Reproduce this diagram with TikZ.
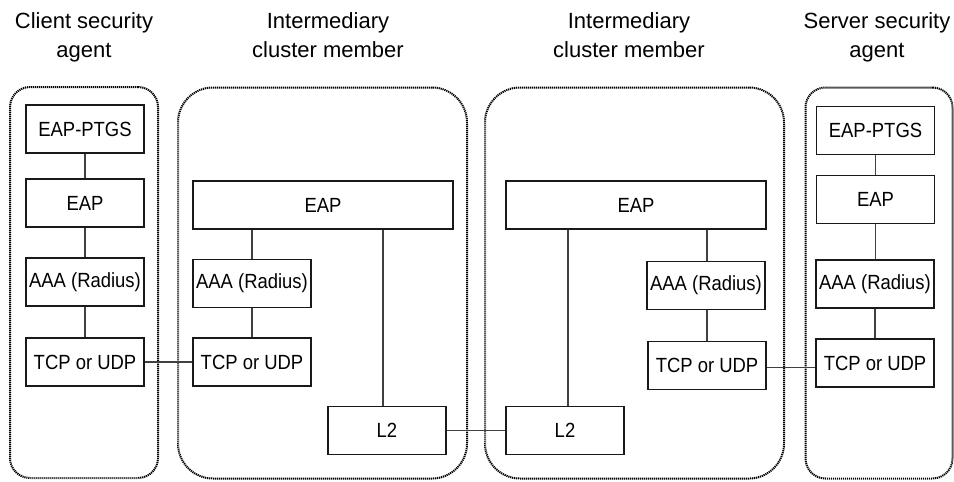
\documentclass[tikz,border=0pt]{standalone}
\usepackage{fontspec}
\setmainfont{Liberation Sans}
\newfontfamily\boxfont[FakeStretch=0.9]{Liberation Sans}
\begin{document}
\begin{tikzpicture}[x=1pt,y=-1pt,
  container/.style={draw=black, line width=2pt, dash pattern=on 1.2pt off 0.8pt, minimum height=391pt, inner sep=0pt},
  blk/.style={draw=black!90, line width=1.3pt, minimum width=118pt, minimum height=48pt, inner sep=0pt, font=\boxfont\fontsize{20.5}{22}\selectfont},
  ttl/.style={anchor=north, inner sep=0pt, align=center, font=\fontsize{22}{29}\selectfont},
  conn/.style={draw=black!75, line width=1.3pt}]
\useasboundingbox (0,0) rectangle (954,482);
\fill[white] (0,0) rectangle (954,482);

% titles
\node[ttl] (t1) at (84,12) {Client security\\agent};
\node[ttl] (t2) at (328,12) {Intermediary\\cluster member};
\node[ttl] (t3) at (629,12) {Intermediary\\cluster member};
\node[ttl] (t4) at (877,12) {Server security\\agent};

% containers
\node[container, minimum width=148pt, rounded corners=20pt] (cc) at (84,282.5) {};
\node[container, minimum width=289pt, rounded corners=35pt] (ci1) at (322.5,283) {};
\node[container, minimum width=299pt, rounded corners=35pt] (ci2) at (634.5,283) {};
\node[container, minimum width=147pt, rounded corners=20pt] (cs) at (879,283) {};

% client
\node[blk] (cptgs) at (85,129) {EAP-PTGS};
\node[blk] (ceap) at (85,203) {EAP};
\node[blk] (caaa) at (85,282) {AAA (Radius)};
\node[blk] (ctcp) at (85,362) {TCP or UDP};

% intermediary 1
\node[blk, minimum width=260pt] (aeap) at (323,205) {EAP};
\node[blk] (aaaa) at (252,283.5) {AAA (Radius)};
\node[blk] (atcp) at (252,362) {TCP or UDP};
\node[blk] (al2) at (387,430.5) {L2};

% intermediary 2
\node[blk, minimum width=260pt] (beap) at (636,205) {EAP};
\node[blk] (baaa) at (706,285.5) {AAA (Radius)};
\node[blk] (btcp) at (707,365.5) {TCP or UDP};
\node[blk] (bl2) at (565,430.5) {L2};

% server
\node[blk] (sptgs) at (875.5,130.5) {EAP-PTGS};
\node[blk] (seap) at (875.5,199.5) {EAP};
\node[blk] (saaa) at (875,284) {AAA (Radius)};
\node[blk] (stcp) at (875,363) {TCP or UDP};

% connectors client
\draw[conn] (cptgs) -- (ceap);
\draw[conn] (ceap) -- (caaa);
\draw[conn] (caaa) -- (ctcp);
% connectors server
\draw[conn] (sptgs.south) -- (seap.north);
\draw[conn] (seap.south) -- (seap.south |- saaa.north);
\draw[conn] (saaa) -- (stcp);
% intermediary 1
\draw[conn] (aaaa.north) -- (aaaa.north |- aeap.south);
\draw[conn] (aaaa) -- (atcp);
\draw[conn] ([xshift=-4pt]al2.north) -- ([xshift=-4pt]al2.north |- aeap.south);
% intermediary 2
\draw[conn] ([xshift=3pt]bl2.north) -- ([xshift=3pt]bl2.north |- beap.south);
\draw[conn] (baaa.north -| btcp.north) -- (btcp.north |- beap.south);
\draw[conn] (baaa.south -| btcp.north) -- (btcp.north);
% between
\draw[conn] (ctcp.east) -- (atcp.west);
\draw[conn] (al2.east) -- (bl2.west);
\draw[conn] ([yshift=-2pt]btcp.east) -- ([yshift=-2pt]btcp.east -| stcp.west);
\end{tikzpicture}
\end{document}
